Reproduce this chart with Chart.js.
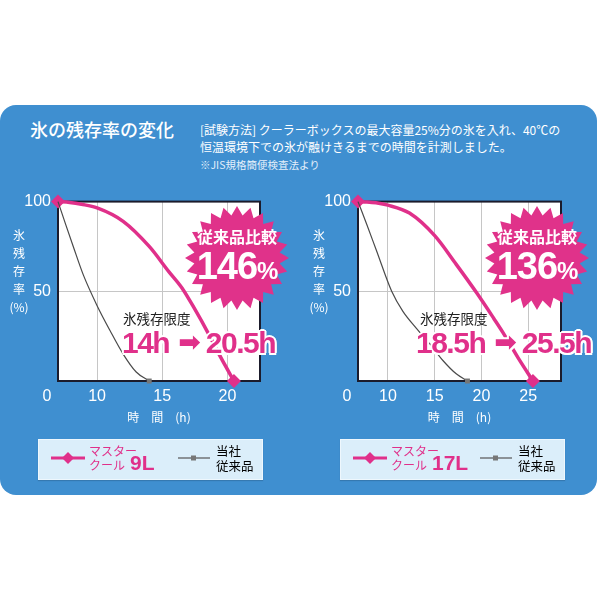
<!DOCTYPE html>
<html lang="ja">
<head>
<meta charset="UTF-8">
<title>氷の残存率の変化</title>
<script src="https://cdn.jsdelivr.net/npm/chart.js"></script>
<style>
  body {
    margin: 0;
    background: #ffffff;
    font-family: "Noto Sans CJK JP", sans-serif;
  }
  #stage {
    position: relative;
    width: 600px;
    height: 600px;
    overflow: hidden;
  }
  .panel {
    position: absolute;
    left: 0;
    top: 105px;
    width: 597px;
    height: 390px;
    background: #3f8fd0;
    border-radius: 16px;
  }
  .abs { position: absolute; white-space: nowrap; }
  .title { left: 30px; top: 116px; color: #fff; font-size: 18px; font-weight: 500; }
  .method { left: 200px; top: 121px; color: #fff; font-size: 12px; line-height: 17px; }
  .method small { font-size: 10.5px; color: #e4f0fb; }
  canvas { position: absolute; }
  .ytitle { color: #fff; font-size: 12px; line-height: 18px; text-align: center; width: 30px; }
  .limit { color: #222; font-size: 13.5px; }
  .hours {
    color: #e0308a;
    font-family: "Liberation Sans", Arial, sans-serif;
    font-weight: bold;
    font-size: 30px;
    letter-spacing: -1.5px;
    text-shadow: 2px 0 #fff, -2px 0 #fff, 0 2px #fff, 0 -2px #fff, 1.5px 1.5px #fff, -1.5px -1.5px #fff, 1.5px -1.5px #fff, -1.5px 1.5px #fff;
  }
  .hours .arr { font-family: "DejaVu Sans", sans-serif; font-size: 27px; margin: 0 5px 0 9px; letter-spacing: 0; vertical-align: 2px; }
  .star-txt { color: #fff; text-align: center; width: 110px; font-weight: bold; }
  .star-txt .cmp { font-size: 16px; line-height: 20px; }
  .star-txt .pct { font-family: "Liberation Sans", Arial, sans-serif; font-size: 38px; line-height: 40px; letter-spacing: -1px; }
  .star-txt .pct span { font-size: 24px; }
  .legend {
    position: absolute;
    top: 439px;
    width: 223px;
    height: 39px;
    background: #dbeefa;
    border: 1px solid #eef7fd;
    box-shadow: 0 1px 1px rgba(0,0,0,0.15);
  }
  .legend .lab { position: absolute; font-size: 12px; line-height: 15px; }
  .legend .pink { color: #e0308a; }
  .legend .big { font-family: "Liberation Sans", Arial, sans-serif; font-weight: bold; font-size: 21px; margin-left: 5px; }
</style>
</head>
<body>
<div id="stage">
  <div class="panel"></div>
  <div class="abs title">氷の残存率の変化</div>
  <div class="abs method">[試験方法] クーラーボックスの最大容量25%分の氷を入れ、40℃の<br>恒温環境下での氷が融けきるまでの時間を計測しました。<br><small>※JIS規格簡便検査法より</small></div>

  <canvas id="chart9" width="290" height="245" style="left:0;top:185px"></canvas>
  <canvas id="chart17" width="300" height="245" style="left:300px;top:185px"></canvas>

  <div class="abs ytitle" style="left:4px;top:226px">氷<br>残<br>存<br>率<br>(%)</div>
  <div class="abs ytitle" style="left:304px;top:226px">氷<br>残<br>存<br>率<br>(%)</div>

  <svg class="abs" width="600" height="600" style="left:0;top:0">
    <polygon id="star9" fill="#e0328a"></polygon>
    <polygon id="star17" fill="#e0328a"></polygon>
  </svg>
  <div class="abs star-txt" style="left:182px;top:226px"><div class="cmp">従来品比較</div><div class="pct">146<span>%</span></div></div>
  <div class="abs star-txt" style="left:482px;top:226px"><div class="cmp">従来品比較</div><div class="pct">136<span>%</span></div></div>

  <div class="abs limit" style="left:123px;top:308px">氷残存限度</div>
  <div class="abs hours" style="left:122px;top:326px">14h<span class="arr">➡</span>20.5h</div>
  <div class="abs limit" style="left:420px;top:308px">氷残存限度</div>
  <div class="abs hours" style="left:416px;top:326px">18.5h<span class="arr">➡</span>25.5h</div>

  <div class="legend" style="left:38px">
    <svg class="abs" width="40" height="14" style="left:10px;top:11px">
      <line x1="2" y1="7" x2="36" y2="7" stroke="#e0308a" stroke-width="3"/>
      <polygon points="19,1 25,7 19,13 13,7" fill="#e0308a"/>
    </svg>
    <div class="lab pink" style="left:50px;top:3px">マスター</div>
    <div class="lab pink" style="left:50px;top:15px">クール<span class="big">9L</span></div>
    <svg class="abs" width="36" height="14" style="left:138px;top:11px">
      <line x1="1" y1="7" x2="33" y2="7" stroke="#555" stroke-width="1.2"/>
      <rect x="14" y="4.5" width="5" height="5" fill="#777"/>
    </svg>
    <div class="lab" style="left:177px;top:3px;font-size:12.5px">当社<br>従来品</div>
  </div>
  <div class="legend" style="left:340px">
    <svg class="abs" width="40" height="14" style="left:10px;top:11px">
      <line x1="2" y1="7" x2="36" y2="7" stroke="#e0308a" stroke-width="3"/>
      <polygon points="19,1 25,7 19,13 13,7" fill="#e0308a"/>
    </svg>
    <div class="lab pink" style="left:50px;top:3px">マスター</div>
    <div class="lab pink" style="left:50px;top:15px">クール<span class="big">17L</span></div>
    <svg class="abs" width="36" height="14" style="left:138px;top:11px">
      <line x1="1" y1="7" x2="33" y2="7" stroke="#555" stroke-width="1.2"/>
      <rect x="14" y="4.5" width="5" height="5" fill="#777"/>
    </svg>
    <div class="lab" style="left:177px;top:3px;font-size:12.5px">当社<br>従来品</div>
  </div>
</div>

<script>
// values (hours, remaining ice %)
const pinkHours9  = [0, 3, 6, 10, 12, 14, 15.5, 16.5, 17.5, 18.5, 19.5, 20.5];
const pinkRate9   = [100, 99.5, 98.5, 96.5, 89, 75, 61, 52, 40, 27, 13, 0];
const grayHours9  = [0, 2, 3.9, 6.5, 10, 11, 12, 13, 14];
const grayRate9   = [100, 87, 75, 59, 42, 28, 15, 5, 0];

const pinkHours17 = [0, 3, 6, 10, 12.3, 15, 17.3, 19.5, 21.3, 22.3, 23.9, 25.5];
const pinkRate17  = [100, 99.8, 99.3, 98, 93.6, 81, 65, 49, 35, 27, 13, 0];
const grayHours17 = [0, 3, 6.1, 10.4, 11.6, 13, 14.5, 15.9, 17.3, 18.5];
const grayRate17  = [100, 87, 73, 50, 38.8, 29.6, 20.5, 11.3, 4, 0];

const xTicks9  = [0, 10, 15, 20];
const xTicks17 = [0, 10, 15, 20, 25];
const yTicks   = [0, 50, 100];

const PINK = '#e0308a';

// the x axis is broken: 0..10 h is squeezed into the first few units
function squeeze(h, start) {
  return h >= 10 ? h : start + h * (10 - start) / 10;
}

const framePlugin = {
  id: 'frame',
  beforeDraw(chart) {
    const a = chart.chartArea, ctx = chart.ctx;
    ctx.save();
    ctx.fillStyle = '#ffffff';
    ctx.fillRect(a.left, a.top, a.right - a.left, a.bottom - a.top);
    ctx.restore();
  },
  beforeDatasetsDraw(chart) {
    const a = chart.chartArea, ctx = chart.ctx;
    ctx.save();
    ctx.strokeStyle = '#1b1b2b';
    ctx.lineWidth = 2;
    ctx.strokeRect(a.left, a.top, a.right - a.left, a.bottom - a.top);
    ctx.restore();
  },
  // the "0" of the broken axis sits left of the corner
  afterDraw(chart) {
    const x = chart.scales.x, ctx = chart.ctx;
    ctx.save();
    ctx.fillStyle = '#ffffff';
    ctx.font = '16px "Liberation Sans"';
    ctx.textAlign = 'center';
    ctx.textBaseline = 'middle';
    ctx.fillText('0', chart.chartArea.left - 11, x.top + 6 + 9.6);
    ctx.restore();
  }
};

function makeChart(id, pinkH, pinkR, grayH, grayR, ticks, start, end, padRight) {
  var pinkPts = pinkH.map((h, i) => ({ x: squeeze(h, start), y: pinkR[i] }));
  var grayPts = grayH.map((h, i) => ({ x: squeeze(h, start), y: grayR[i] }));
  var lastP = pinkPts.length - 1, lastG = grayPts.length - 1;

  return new Chart(document.getElementById(id), {
    type: 'line',
    data: {
      datasets: [{
        data: grayPts,
        borderColor: '#4a4a4a',
        borderWidth: 1.2,
        cubicInterpolationMode: 'monotone',
        pointStyle: 'rect',
        pointRadius: c => c.dataIndex === lastG ? 3.5 : 0,
        pointBackgroundColor: '#777',
        pointBorderWidth: 0,
        clip: false
      }, {
        data: pinkPts,
        borderColor: PINK,
        borderWidth: 3.5,
        cubicInterpolationMode: 'monotone',
        pointStyle: 'rectRot',
        pointRadius: c => (c.dataIndex === 0 || c.dataIndex === lastP) ? 7 : 0,
        pointBackgroundColor: PINK,
        pointBorderWidth: 0,
        clip: false
      }]
    },
    options: {
      responsive: false,
      animation: false,
      layout: { padding: { top: 13, right: padRight, left: 0, bottom: 0 } },
      plugins: { legend: { display: false }, tooltip: { enabled: false } },
      scales: {
        x: {
          type: 'linear',
          min: start,
          max: end,
          afterBuildTicks: axis => { axis.ticks = ticks.map(t => ({ value: squeeze(t, start) })); },
          afterFit: axis => { axis.height = 49; },
          ticks: {
            color: '#ffffff',
            padding: 6,
            font: { family: 'Liberation Sans', size: 16 },
            callback: v => (v === start ? '' : v)
          },
          grid: { color: '#c6c6c6', drawTicks: false },
          border: { display: false },
          title: {
            display: true,
            text: '時　間　(h)',
            color: '#ffffff',
            font: { family: 'Noto Sans CJK JP', size: 12 },
            padding: { top: 2, bottom: 5 }
          }
        },
        y: {
          min: 0,
          max: 100,
          afterBuildTicks: axis => { axis.ticks = yTicks.map(v => ({ value: v })); },
          afterFit: axis => { axis.width = 58; },
          ticks: {
            color: '#ffffff',
            padding: 7,
            font: { family: 'Liberation Sans', size: 16 },
            callback: v => (v === 0 ? '' : v)
          },
          grid: { color: '#c6c6c6', drawTicks: false },
          border: { display: false }
        }
      }
    },
    plugins: [framePlugin]
  });
}

makeChart('chart9', pinkHours9, pinkRate9, grayHours9, grayRate9, xTicks9, 7, 22.5, 30);
makeChart('chart17', pinkHours17, pinkRate17, grayHours17, grayRate17, xTicks17, 6.8, 28.5, 39);

// burst badges
function starPoints(cx, cy, rOut, rIn, n) {
  var pts = [];
  for (var i = 0; i < n * 2; i++) {
    var r = i % 2 === 0 ? rOut : rIn;
    var a = Math.PI * i / n - Math.PI / 2;
    pts.push((cx + r * Math.cos(a)).toFixed(1) + ',' + (cy + r * Math.sin(a)).toFixed(1));
  }
  return pts.join(' ');
}
document.getElementById('star9').setAttribute('points', starPoints(237, 258, 52, 43, 24));
document.getElementById('star17').setAttribute('points', starPoints(537, 258, 52, 43, 24));
</script>
</body>
</html>
